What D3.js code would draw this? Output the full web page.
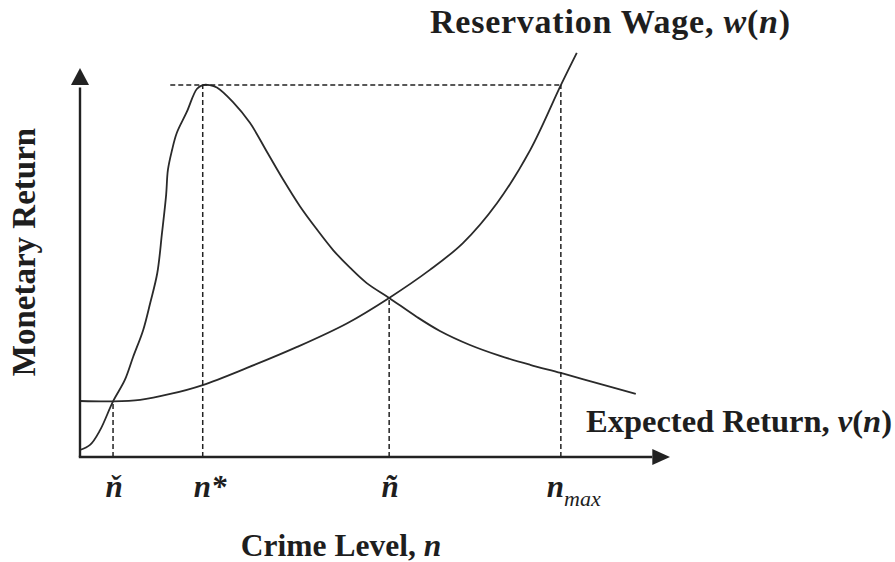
<!DOCTYPE html>
<html>
<head>
<meta charset="utf-8">
<script src="https://cdn.jsdelivr.net/npm/d3@7"></script>
<style>
  html, body { margin: 0; padding: 0; background: #fff; }
  svg { display: block; }
  text { font-family: "Liberation Serif", "Times New Roman", serif; fill: #1e1e1e; }
</style>
</head>
<body>
<svg id="chart" width="895" height="562"></svg>
<script>
// ---- data (arbitrary units 0..100) ----
const crimeLevelV    = [0, 1.7, 3.4, 5.6, 7.6, 9.0, 10.7, 11.9, 13.1, 13.9, 14.6, 14.9, 15.6, 16.4, 18.1, 19.8, 20.8, 22.0, 23.2, 25.9, 28.8, 31.7, 34.4, 37.3, 40.2, 42.9, 45.8, 48.6, 52.4, 57.1, 61.0, 66.1, 71.2, 76.3, 81.5, 88.1, 94.2];
const expectedReturn = [1.8, 3.1, 6.9, 14.3, 19.8, 25.7, 32.6, 39.6, 47.3, 57.6, 67.4, 73.8, 78.9, 83.3, 88.7, 94.6, 95.6, 95.6, 95.0, 91.3, 85.9, 78.4, 71.4, 64.4, 58.4, 53.2, 48.6, 44.7, 40.9, 36.0, 32.4, 28.8, 26.0, 23.7, 21.6, 18.8, 16.2];
const crimeLevelW     = [0, 5.6, 10.2, 15.3, 20.8, 28.3, 36.8, 45.3, 52.4, 59.3, 64.9, 70.7, 76.3, 81.5, 84.2];
const reservationWage = [14.4, 14.3, 14.7, 16.2, 18.5, 22.9, 28.3, 34.4, 40.9, 48.1, 55.0, 65.3, 78.9, 95.6, 103.9];
const tickValues = [5.6, 20.8, 52.4, 81.5];
const tickLabels = ["ň", "n*", "ñ", "n_max"];
const peakValue = 95.6;          // max of v(n) = w(n_max)
const crossValues = [14.3, 95.6, 40.9, 95.6]; // heights of the dashed guides

// ---- layout ----
const svg = d3.select("#chart");
const x = d3.scaleLinear().domain([0, 100]).range([80, 670]);
const y = d3.scaleLinear().domain([0, 100]).range([457, 68]);
const ink = "#222";

// curves
const line = d3.line().x(d => x(d[0])).y(d => y(d[1])).curve(d3.curveCatmullRom.alpha(0.5));
svg.append("path")
  .attr("d", line(d3.zip(crimeLevelV, expectedReturn)))
  .attr("fill", "none").attr("stroke", "#2a2a2a").attr("stroke-width", 1.8);
svg.append("path")
  .attr("d", line(d3.zip(crimeLevelW, reservationWage)))
  .attr("fill", "none").attr("stroke", "#2a2a2a").attr("stroke-width", 1.8);

// dashed guides
const dash = "5,3";
tickValues.forEach((t, i) => {
  svg.append("line")
    .attr("x1", x(t)).attr("x2", x(t))
    .attr("y1", y(0)).attr("y2", y(crossValues[i]))
    .attr("stroke", ink).attr("stroke-width", 1.5).attr("stroke-dasharray", dash);
});
svg.append("line")
  .attr("x1", x(15.3)).attr("x2", x(tickValues[3]))
  .attr("y1", y(peakValue)).attr("y2", y(peakValue))
  .attr("stroke", ink).attr("stroke-width", 1.5).attr("stroke-dasharray", dash);

// axes with arrowheads
svg.append("line").attr("x1", x(0)).attr("x2", x(0)).attr("y1", y(0)).attr("y2", y(95))
  .attr("stroke", ink).attr("stroke-width", 2.4);
svg.append("line").attr("x1", x(0) - 1.2).attr("x2", x(97)).attr("y1", y(0)).attr("y2", y(0))
  .attr("stroke", ink).attr("stroke-width", 2.4);
svg.append("path")
  .attr("d", `M${x(0)},${y(100)} L${x(0) - 9},${y(95.6)} L${x(0) + 9},${y(95.6)} Z`)
  .attr("fill", ink);
svg.append("path")
  .attr("d", `M${x(100)},${y(0)} L${x(97)},${y(0) - 8} L${x(97)},${y(0) + 8} Z`)
  .attr("fill", ink);

// tick labels
const fs = 31;
tickLabels.forEach((lab, i) => {
  const t = svg.append("text")
    .attr("y", 497)
    .attr("font-size", fs).attr("font-style", "italic").attr("font-weight", "bold");
  if (lab === "n_max") {
    t.attr("x", x(tickValues[i]) - 14).attr("text-anchor", "start");
    t.append("tspan").text("n");
    t.append("tspan").text("max").attr("font-size", 22).attr("font-weight", "normal").attr("dy", 9);
  } else if (lab === "n*") {
    t.attr("x", x(tickValues[i]) - 9).attr("text-anchor", "start").text(lab);
  } else {
    t.attr("x", x(tickValues[i]) + 1).attr("text-anchor", "middle").text(lab);
  }
});

// axis titles
function richLabel(sel, plain, ital, rest) {
  sel.append("tspan").text(plain);
  sel.append("tspan").text(ital).attr("font-style", "italic");
  if (rest) {
    sel.append("tspan").text("(").attr("font-style", "normal");
    sel.append("tspan").text("n").attr("font-style", "italic");
    sel.append("tspan").text(")").attr("font-style", "normal");
  }
}
const xt = svg.append("text").attr("x", 341).attr("y", 556).attr("text-anchor", "middle")
  .attr("font-size", 31.5).attr("font-weight", "bold");
richLabel(xt, "Crime Level, ", "n", false);

svg.append("text").attr("transform", "translate(35,252) rotate(-90)")
  .attr("text-anchor", "middle").attr("font-size", 33).attr("font-weight", "bold")
  .text("Monetary Return");

const rw = svg.append("text").attr("x", 610).attr("y", 33).attr("text-anchor", "middle")
  .attr("font-size", 34).attr("font-weight", "bold").attr("textLength", 360).attr("lengthAdjust", "spacing");
richLabel(rw, "Reservation Wage, ", "w", true);

const er = svg.append("text").attr("x", 739).attr("y", 432).attr("text-anchor", "middle")
  .attr("font-size", 32.5).attr("font-weight", "bold");
richLabel(er, "Expected Return, ", "v", true);
</script>
</body>
</html>
